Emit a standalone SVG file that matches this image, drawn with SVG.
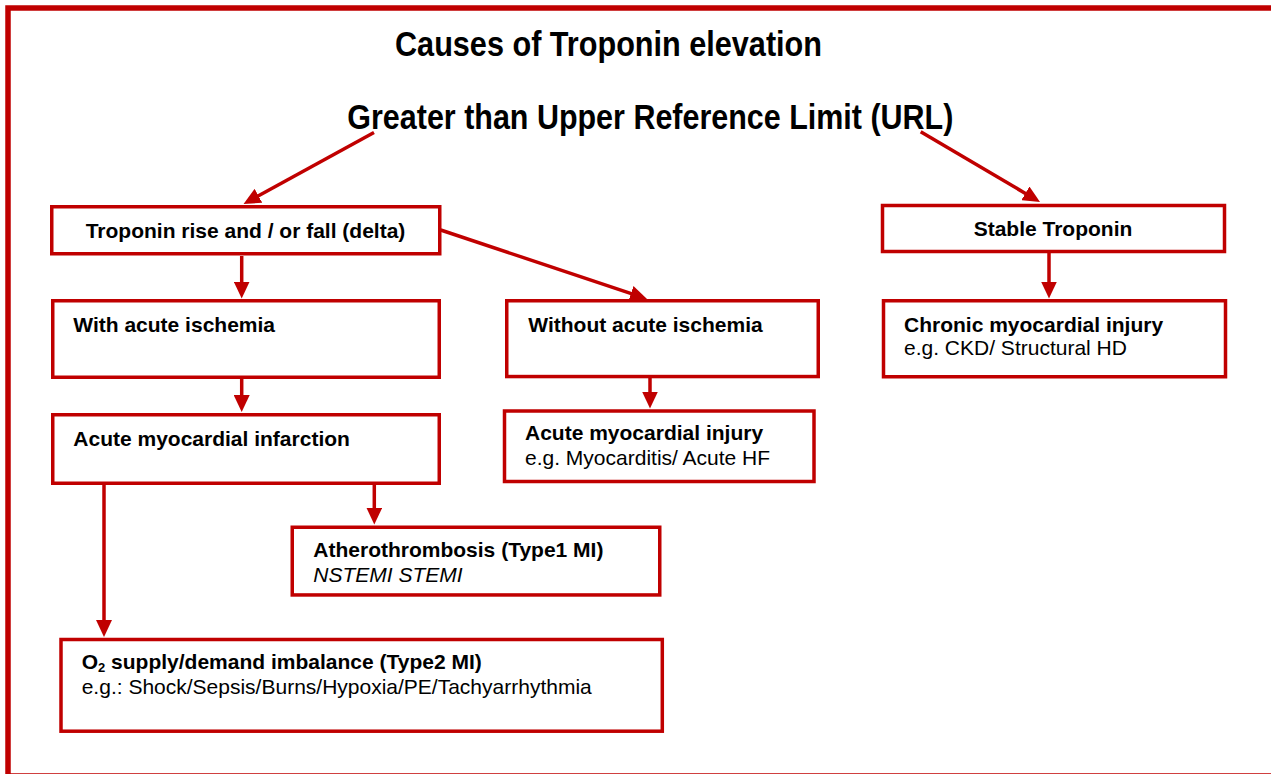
<svg xmlns="http://www.w3.org/2000/svg" width="1271" height="774" viewBox="0 0 1271 774">
<style>
.frame{fill:none;stroke:#c00000;stroke-width:5.5}
.box{fill:#ffffff;stroke:#c00000;stroke-width:3.5}
.title{font-family:"Liberation Sans Narrow","Liberation Sans",Arial,sans-serif;font-weight:bold;font-size:35px;fill:#000}
.b{font-family:"Liberation Sans",Arial,sans-serif;font-weight:bold;font-size:21px;fill:#000}
.r{font-family:"Liberation Sans",Arial,sans-serif;font-size:21px;fill:#000}
.i{font-family:"Liberation Sans",Arial,sans-serif;font-style:italic;font-size:21px;fill:#000}
.conn{fill:none;stroke:#c00000;stroke-width:3.5;marker-end:url(#arr)}
</style>
<defs>
<marker id="arr" markerUnits="userSpaceOnUse" markerWidth="17" markerHeight="16" refX="2" refY="8" orient="auto">
<path d="M0,0 L17,8 L0,16 Z" fill="#c00000"/>
</marker>
</defs>
<rect width="1271" height="774" fill="#ffffff"/>
<rect class="frame" x="8" y="8" width="1275" height="768"/>
<g id="titles">
<text class="title" x="395" y="56" textLength="427" lengthAdjust="spacingAndGlyphs">Causes of Troponin elevation</text>
<text class="title" x="347.3" y="129" textLength="606" lengthAdjust="spacingAndGlyphs">Greater than Upper Reference Limit (URL)</text>
</g>
<g id="connectors">
<path class="conn" d="M374,132.5 L256.7,196.8"/>
<path class="conn" d="M920.7,131.7 L1027.1,194.4"/>
<path class="conn" d="M241.7,256 L241.7,283.5"/>
<path class="conn" d="M440.7,230 L632.8,294.2"/>
<path class="conn" d="M241.7,379 L241.7,397"/>
<path class="conn" d="M650,378 L650,393.5"/>
<path class="conn" d="M1049,253 L1049,283.5"/>
<path class="conn" d="M374.3,485 L374.3,509.5"/>
<path class="conn" d="M104,485 L104,622"/>
</g>
<g id="rise">
<rect class="box" x="51.75" y="206.75" width="388" height="47"/>
<text class="b" x="245.5" y="238" text-anchor="middle">Troponin rise and / or fall (delta)</text>
</g>
<g id="stable">
<rect class="box" x="882.5" y="205.5" width="342" height="46"/>
<text class="b" x="1053" y="236" text-anchor="middle">Stable Troponin</text>
</g>
<g id="with-ischemia">
<rect class="box" x="52.75" y="300.75" width="386.5" height="76.5"/>
<text class="b" x="73.3" y="331.7">With acute ischemia</text>
</g>
<g id="without-ischemia">
<rect class="box" x="506.75" y="300.75" width="311.5" height="75.8"/>
<text class="b" x="528.3" y="331.7">Without acute ischemia</text>
</g>
<g id="chronic">
<rect class="box" x="883.5" y="300.75" width="342" height="76"/>
<text class="b" x="904" y="331.7">Chronic myocardial injury</text>
<text class="r" x="904" y="355">e.g. CKD/ Structural HD</text>
</g>
<g id="acute-mi">
<rect class="box" x="52.75" y="414.75" width="386.5" height="68.5"/>
<text class="b" x="73.3" y="445.7">Acute myocardial infarction</text>
</g>
<g id="acute-injury">
<rect class="box" x="504.5" y="411" width="309.5" height="70.5"/>
<text class="b" x="525" y="440">Acute myocardial injury</text>
<text class="r" x="525" y="465">e.g. Myocarditis/ Acute HF</text>
</g>
<g id="type1">
<rect class="box" x="292.25" y="527.25" width="367.5" height="67.7"/>
<text class="b" x="313.3" y="557.3">Atherothrombosis (Type1 MI)</text>
<text class="i" x="313.3" y="581.7">NSTEMI STEMI</text>
</g>
<g id="type2">
<rect class="box" x="61" y="639.5" width="601.3" height="91.7"/>
<text class="b" x="81.7" y="669">O<tspan font-size="13" dy="3">2</tspan><tspan dy="-3"> supply/demand imbalance (Type2 MI)</tspan></text>
<text class="r" x="81.7" y="693.5">e.g.: Shock/Sepsis/Burns/Hypoxia/PE/Tachyarrhythmia</text>
</g>
</svg>
